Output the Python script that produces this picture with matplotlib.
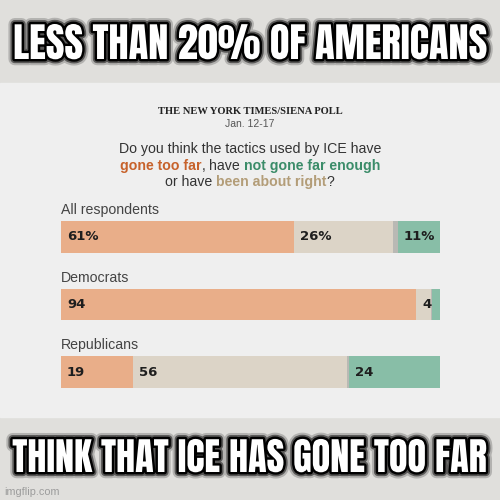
import numpy as np
import matplotlib
matplotlib.use('Agg')
import matplotlib.pyplot as plt
from matplotlib import font_manager
from matplotlib.patches import Rectangle
import matplotlib.patheffects as pe

groups = ['All respondents', 'Democrats', 'Republicans']
gone_too_far = [61, 94, 19]
about_right = [26, 4, 56]
unsure = [1.3, 0.3, 0.5]
not_far_enough = [11, 2, 24]
value_labels = [['61%', '26%', '', '11%'],
                ['94', '4', '', ''],
                ['19', '56', '', '24']]

top_caption = 'LESS THAN 20% OF AMERICANS'
bottom_caption = 'THINK THAT ICE HAS GONE TOO FAR'

BAR_COLORS = ['#e9ae89', '#dcd4c7', '#b9b9b4', '#88bea7']
ORANGE_T = '#c7622b'
GREEN_T = '#3b8c69'
TAN_T = '#b39d78'
DARK = '#333333'
SANS = ['Liberation Sans', 'DejaVu Sans']
SERIF = ['Liberation Serif', 'DejaVu Serif']

W = H = 500.0


def fy(y_px):
    return 1 - y_px / H


installed = {f.name for f in font_manager.fontManager.ttflist}
meme_font = 'DejaVu Sans'
for name in ['Impact', 'Anton', 'Oswald', 'Liberation Sans Narrow', 'DejaVu Sans']:
    if name in installed:
        meme_font = name
        break

fig = plt.figure(figsize=(5, 5), dpi=100, facecolor='#e0dfdc')
fig.patches.append(Rectangle((0, fy(417)), 1, (417 - 83) / H,
                             transform=fig.transFigure, color='#efefef', zorder=-5))
renderer = fig.canvas.get_renderer()

# --- bars
ax = fig.add_axes([61 / W, fy(388), 379 / W, (388 - 221) / H])
ax.set_facecolor('none')
ax.set_zorder(2)
h = 0.474
y = np.arange(len(groups))
table = np.array([gone_too_far, about_right, unsure, not_far_enough], dtype=float).T
shares = table / table.sum(axis=1, keepdims=True) * 100
lefts = np.cumsum(shares, axis=1) - shares
for k in range(table.shape[1]):
    ax.barh(y, shares[:, k], left=lefts[:, k], height=h, color=BAR_COLORS[k], linewidth=0)
for i in range(len(groups)):
    for k in range(table.shape[1]):
        lab = value_labels[i][k]
        if lab:
            ax.annotate(lab, (lefts[i, k], y[i]), xytext=(4.3, 0), textcoords='offset points',
                        va='center', ha='left', fontsize=9.5, fontweight='bold',
                        color='#1e1e1e', family='DejaVu Sans')
    ax.annotate(groups[i], (0, y[i] - h / 2), xytext=(0, 5), textcoords='offset points',
                va='baseline', ha='left', fontsize=10.2, color='#444444', family=SANS,
                annotation_clip=False)
ax.set_xlim(0, 100)
ax.set_ylim(len(groups) - 1 + h / 2, -h / 2)
ax.axis('off')

# --- header
fig.text(0.5, fy(114), 'THE NEW YORK TIMES/SIENA POLL', ha='center', va='baseline',
         fontsize=7.6, fontweight='bold', family=SERIF, color='#222222')
fig.text(0.5, fy(127), 'Jan. 12-17', ha='center', va='baseline',
         fontsize=7.5, family=SANS, color='#555555')
fig.text(0.5, fy(153), 'Do you think the tactics used by ICE have', ha='center',
         va='baseline', fontsize=10.2, family=SANS, color=DARK)


def color_line(y_px, pieces, size=10.2):
    # pieces starting with a space get a space gap before them
    probe1 = fig.text(0, 0, 'x x', fontsize=size, family=SANS)
    probe2 = fig.text(0, 0, 'xx', fontsize=size, family=SANS)
    space = probe1.get_window_extent(renderer).width - probe2.get_window_extent(renderer).width
    probe1.remove()
    probe2.remove()
    objs, gaps = [], []
    for txt, col, wt in pieces:
        gaps.append(space if txt.startswith(' ') else 0)
        objs.append(fig.text(0, fy(y_px), txt.strip(), color=col, fontweight=wt,
                             fontsize=size, family=SANS, va='baseline', ha='left'))
    widths = [o.get_window_extent(renderer).width for o in objs]
    total = sum(widths) + sum(gaps)
    x = (W - total) / 2
    for o, w, g in zip(objs, widths, gaps):
        x += g
        o.set_x(x / W)
        x += w


color_line(170, [('gone too far', ORANGE_T, 'bold'), (',', DARK, 'normal'),
                 (' have', DARK, 'normal'), (' not gone far enough', GREEN_T, 'bold')])
color_line(186, [('or have', DARK, 'normal'), (' been about right', TAN_T, 'bold'),
                 ('?', DARK, 'normal')])

# --- meme captions
glow = [pe.withStroke(linewidth=9, foreground='black', alpha=0.2),
        pe.withStroke(linewidth=6, foreground='black', alpha=0.5),
        pe.withStroke(linewidth=3.5, foreground='black')]


def caption(txt, base_px, width_px):
    t = fig.text(0.5, fy(base_px), txt, ha='center', va='baseline', color='white',
                 fontsize=30, fontweight='bold', family=meme_font, fontstretch='condensed',
                 path_effects=glow)
    w = t.get_window_extent(renderer).width
    t.set_fontsize(30 * width_px / w)
    return t


caption(top_caption, 59, 474)
caption(bottom_caption, 472, 474)

fig.text(4 / W, fy(495), 'imgflip.com', ha='left', va='baseline', fontsize=7.8,
         family=SANS, color='#9c9c9c')

fig.savefig('out.png', dpi=100, facecolor=fig.get_facecolor())
